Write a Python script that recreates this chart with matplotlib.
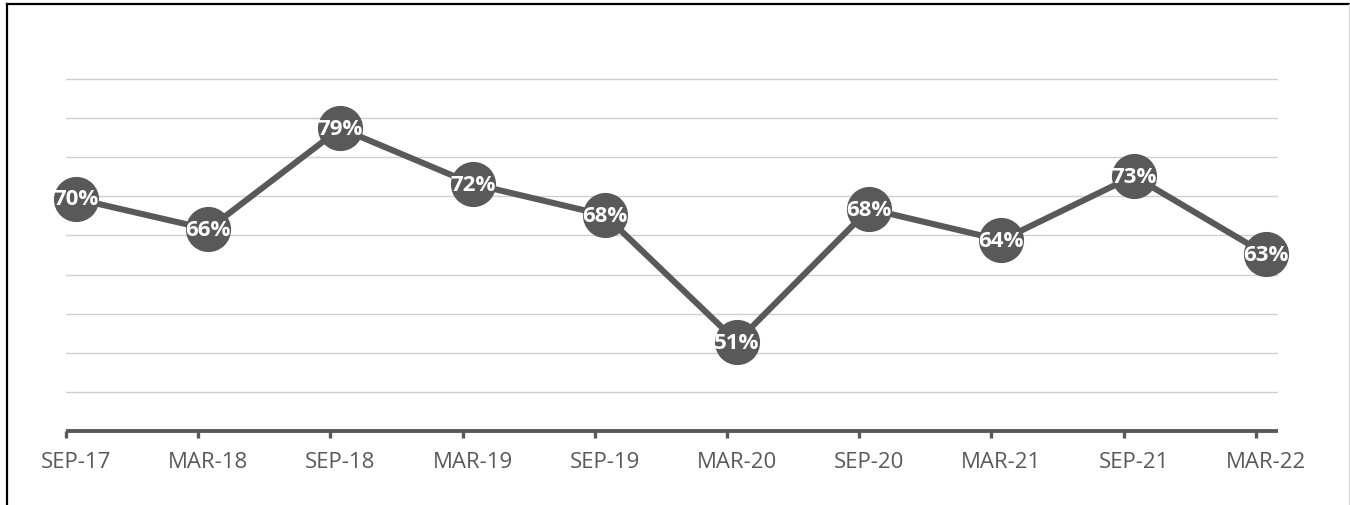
import matplotlib
matplotlib.use("Agg")
import matplotlib.pyplot as plt
from matplotlib.lines import Line2D

categories = ["SEP-17", "MAR-18", "SEP-18", "MAR-19", "SEP-19",
              "MAR-20", "SEP-20", "MAR-21", "SEP-21", "MAR-22"]
values = [69.7, 65.8, 78.7, 71.6, 67.6, 51.4, 68.4, 64.4, 72.6, 62.6]
grid_values = [45, 50, 55, 60, 65, 70, 75, 80, 85]

DARK = "#595959"
W, H = 1350, 505
fig = plt.figure(figsize=(W / 100, H / 100), dpi=100)
fig.patch.set_facecolor("white")

left, right = 66 / W, 1278 / W
bottom, top = 1 - 431 / H, 1 - 40 / H
ax = fig.add_axes([left, bottom, right - left, top - bottom])

x = list(range(len(categories)))
for g in grid_values:
    ax.axhline(g, color="#cfcfcf", lw=1.0, zorder=0)

ax.plot(x, values, color=DARK, lw=4.4, marker="o", markersize=31.5,
        markerfacecolor=DARK, markeredgecolor=DARK, zorder=3,
        solid_capstyle="round", clip_on=False)
for xi, v in zip(x, values):
    ax.text(xi, v - 0.15, f"{round(v)}%", ha="center", va="center",
            color="white", fontsize=16, fontweight="bold",
            family="Open Sans", zorder=4, clip_on=False)

ax.set_xlim(-0.0756, 9.092)
ax.set_ylim(40, 90)
ax.set_yticks([])
for s in ["left", "right", "top"]:
    ax.spines[s].set_visible(False)
ax.spines["bottom"].set_color(DARK)
ax.spines["bottom"].set_linewidth(2.8)
ax.spines["bottom"].set_capstyle("butt")

ax.set_xticks(x)
ax.set_xticklabels(categories, fontsize=16, family="Open Sans", color=DARK)
ax.tick_params(axis="x", which="major", length=0, pad=15)
ax.set_xticks([i - 0.0756 for i in x], minor=True)
ax.tick_params(axis="x", which="minor", length=5, width=2.4, color=DARK,
               direction="out")

# outer frame
fig.add_artist(Line2D([7 / W, 7 / W], [0, 1 - 4 / H], color="black", lw=1.6,
                      transform=fig.transFigure))
fig.add_artist(Line2D([7 / W, 1], [1 - 4 / H, 1 - 4 / H], color="black", lw=1.6,
                      transform=fig.transFigure))
fig.add_artist(Line2D([1349 / W, 1349 / W], [0, 1 - 4 / H], color="#d9d9d9",
                      lw=1.0, transform=fig.transFigure))

fig.savefig("out.png", dpi=100)
